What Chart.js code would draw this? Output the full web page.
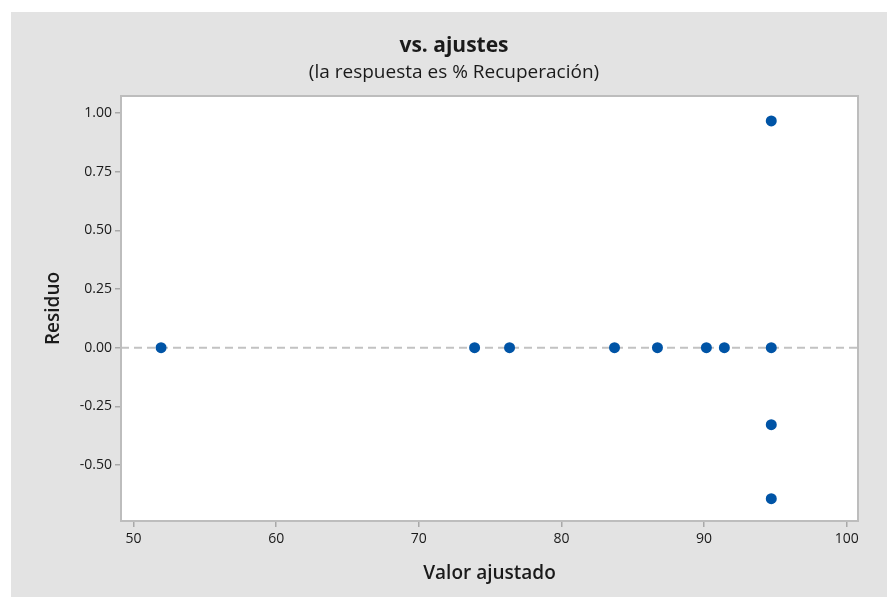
<!DOCTYPE html>
<html>
<head>
<meta charset="utf-8">
<title>vs. ajustes</title>
<script src="https://cdn.jsdelivr.net/npm/chart.js@4/dist/chart.umd.min.js"></script>
<style>
    html, body { margin: 0; padding: 0; background: #ffffff; }
    #residChart { display: block; }
</style>
</head>
<body>
<canvas id="residChart" width="887" height="597"></canvas>
<script>
// ========================================
// DATA
// ========================================

// Fitted values (x) and residuals (y)
const fittedValues = [51.93, 73.91, 76.36, 83.72, 86.73, 90.16, 91.42, 94.71, 94.71, 94.71, 94.71];
const residuals    = [0, 0, 0, 0, 0, 0, 0, 0.966, 0, -0.328, -0.643];

// Tick labels
const xTickValues = [50, 60, 70, 80, 90, 100];
const yTickValues = [-0.50, -0.25, 0.00, 0.25, 0.50, 0.75, 1.00];

// Axis ranges
const xRange = [49.12, 100.79];
const yRange = [-0.738, 1.072];

// Texts
const chartTitle = 'vs. ajustes';
const chartSubtitle = '(la respuesta es % Recuperación)';
const xAxisTitle = 'Valor ajustado';
const yAxisTitle = 'Residuo';

const FONT = "'Open Sans', 'Noto Sans', sans-serif";
const TEXT_COLOR = '#1a1a1a';
const FRAME_COLOR = '#bdbdbd';
const POINT_COLOR = '#0054a6';

// ========================================
// PLUGINS
// ========================================

// Grey page background + white plot area with frame + zero reference line
const backgroundPlugin = {
    id: 'minitabBackground',
    beforeDraw(chart) {
        const ctx = chart.ctx;
        const area = chart.chartArea;
        ctx.save();
        ctx.fillStyle = '#ffffff';
        ctx.fillRect(0, 0, chart.width, chart.height);
        ctx.fillStyle = '#e3e3e3';
        ctx.fillRect(11, 12, chart.width - 11, chart.height - 12);
        ctx.fillStyle = '#ffffff';
        ctx.fillRect(area.left, area.top, area.right - area.left, area.bottom - area.top);

        // zero line
        const y0 = chart.scales.y.getPixelForValue(0);
        ctx.strokeStyle = '#c2c2c2';
        ctx.lineWidth = 2;
        ctx.setLineDash([8, 5]);
        ctx.beginPath();
        ctx.moveTo(area.left, y0);
        ctx.lineTo(area.right, y0);
        ctx.stroke();
        ctx.restore();
    },
    afterDraw(chart) {
        const ctx = chart.ctx;
        const area = chart.chartArea;
        ctx.save();
        ctx.strokeStyle = FRAME_COLOR;
        ctx.lineWidth = 2;
        ctx.strokeRect(area.left, area.top, area.right - area.left, area.bottom - area.top);
        ctx.restore();
    }
};

// Titles drawn as text
const titlesPlugin = {
    id: 'minitabTitles',
    afterDraw(chart) {
        const ctx = chart.ctx;
        const area = chart.chartArea;
        ctx.save();
        ctx.fillStyle = TEXT_COLOR;
        ctx.textAlign = 'center';
        ctx.textBaseline = 'alphabetic';

        ctx.font = `bold 21px ${FONT}`;
        ctx.fillText(chartTitle, 454, 52);

        ctx.font = `19px ${FONT}`;
        ctx.fillText(chartSubtitle, 454, 78);

        ctx.font = `600 19px ${FONT}`;
        ctx.textBaseline = 'middle';
        ctx.fillText(xAxisTitle, (area.left + area.right) / 2, 574);

        ctx.translate(54, (area.top + area.bottom) / 2);
        ctx.rotate(-Math.PI / 2);
        ctx.fillText(yAxisTitle, 0, 0);
        ctx.restore();
    }
};

// ========================================
// CHART
// ========================================

const points = fittedValues.map((x, i) => ({ x: x, y: residuals[i] }));

new Chart(document.getElementById('residChart'), {
    type: 'scatter',
    data: {
        datasets: [{
            data: points,
            backgroundColor: POINT_COLOR,
            borderColor: POINT_COLOR,
            pointRadius: 5.5,
            pointHoverRadius: 5.5,
            borderWidth: 0
        }]
    },
    options: {
        responsive: false,
        animation: false,
        devicePixelRatio: 1,
        layout: {
            padding: { top: 96, right: 29, bottom: 0, left: 0 }
        },
        plugins: {
            legend: { display: false },
            tooltip: { enabled: false }
        },
        scales: {
            x: {
                type: 'linear',
                min: xRange[0],
                max: xRange[1],
                afterBuildTicks: scale => { scale.ticks = xTickValues.map(v => ({ value: v })); },
                afterFit: scale => { scale.height = 76; },
                grid: {
                    drawOnChartArea: false,
                    drawTicks: true,
                    tickLength: 6,
                    color: '#a8a8a8',
                    lineWidth: 1.5
                },
                border: { display: false },
                ticks: {
                    autoSkip: false,
                    maxRotation: 0,
                    padding: 4,
                    color: TEXT_COLOR,
                    font: { family: FONT, size: 14 },
                    callback: v => String(v)
                }
            },
            y: {
                type: 'linear',
                min: yRange[0],
                max: yRange[1],
                afterBuildTicks: scale => { scale.ticks = yTickValues.map(v => ({ value: v })); },
                afterFit: scale => { scale.width = 121; },
                grid: {
                    drawOnChartArea: false,
                    drawTicks: true,
                    tickLength: 6,
                    color: '#a8a8a8',
                    lineWidth: 1.5
                },
                border: { display: false },
                ticks: {
                    autoSkip: false,
                    padding: 3,
                    color: TEXT_COLOR,
                    font: { family: FONT, size: 14 },
                    callback: v => Number(v).toFixed(2)
                }
            }
        }
    },
    plugins: [backgroundPlugin, titlesPlugin]
});
</script>
</body>
</html>
